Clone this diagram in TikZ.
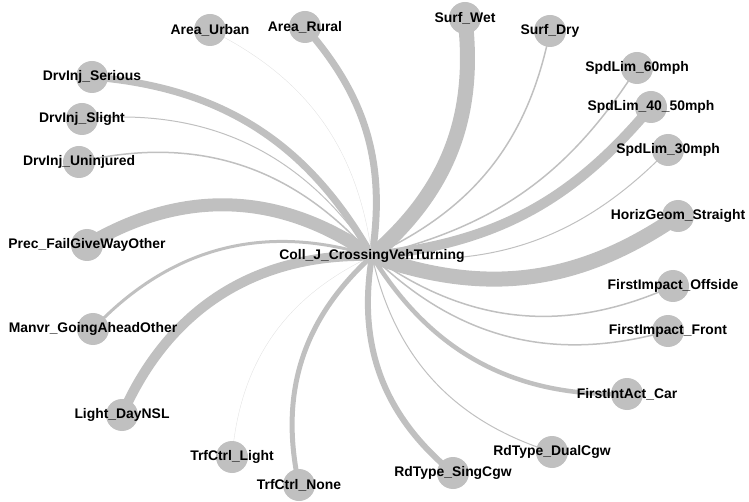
\documentclass[tikz,border=0pt]{standalone}
\usepackage{fontspec}
\setmainfont{Liberation Sans}
\usepackage{tikz}
\usetikzlibrary{backgrounds}

\definecolor{nodegray}{RGB}{192,192,192}

\begin{document}
\begin{tikzpicture}[
    x=1pt, y=-1pt,
    vertex style/.style={circle, fill=nodegray, minimum size=32pt, inner sep=0pt},
    label style/.style={font=\fontsize{13.9}{15}\selectfont\bfseries, inner sep=0pt},
    edge style/.style={nodegray, line cap=butt},
    faint edge style/.style={edge style, nodegray!45}
]

\useasboundingbox (0,0) rectangle (749,502);

% Draw the hub
\node[label style] (hub) at (372,256) {Coll\_J\_CrossingVehTurning};

% Draw the nodes around the hub
\foreach \n/\x/\y/\t in {
    urban/210/30/Area\_Urban,
    rural/305/27/Area\_Rural,
    wet/465/18/Surf\_Wet,
    dry/550/31/Surf\_Dry,
    sixty/637/68/SpdLim\_60mph,
    forty/651/107/SpdLim\_40\_50mph,
    thirty/668/150/SpdLim\_30mph,
    straight/678/216/HorizGeom\_Straight,
    offside/673/286/FirstImpact\_Offside,
    front/668/331/FirstImpact\_Front,
    car/627/394/FirstIntAct\_Car,
    dual/552/452/RdType\_DualCgw,
    sing/453/473/RdType\_SingCgw,
    none/299/485/TrfCtrl\_None,
    light/232/457/TrfCtrl\_Light,
    day/122/415/Light\_DayNSL,
    manvr/93/329/Manvr\_GoingAheadOther,
    prec/87/245/Prec\_FailGiveWayOther,
    uninj/79/162/DrvInj\_Uninjured,
    slight/82/119/DrvInj\_Slight,
    serious/92/77/DrvInj\_Serious} {
    \node[vertex style, label={[label style]center:\t}] (\n) at (\x,\y) {};
}

% Draw the edges behind everything
\begin{scope}[on background layer]
\foreach \n/\w/\b in {rural/7/25, wet/15/28, dry/1.5/27, sixty/1.5/22, forty/10/22,
    thirty/1/26, straight/15/27, offside/1.5/30, front/1.5/30, car/4.5/30,
    dual/1/30, sing/6/30, none/5/30, day/10/34, manvr/3/32, prec/13/33,
    uninj/1.5/31, slight/1/31, serious/7/28} {
    \draw[edge style, line width=\w pt] (hub.center) to[bend right=\b] (\n.center);
}
\draw[faint edge style, line width=0.4pt] (hub.center) to[bend right=28] (urban.center);
\draw[faint edge style, line width=0.4pt] (hub.center) to[bend right=30] (light.center);
\end{scope}
\end{tikzpicture}
\end{document}
